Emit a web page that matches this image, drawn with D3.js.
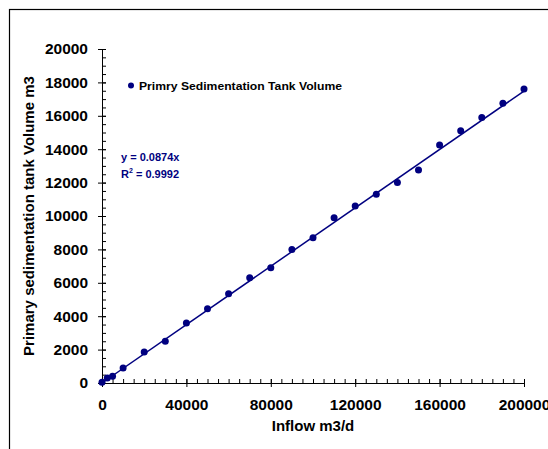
<!DOCTYPE html>
<html>
<head>
<meta charset="utf-8">
<script src="https://cdn.jsdelivr.net/npm/d3@7"></script>
<style>
  body { margin: 0; background: #fff; }
  svg { display: block; font-family: "Liberation Sans", Arial, sans-serif; }
</style>
</head>
<body>
<script>
// data

const inflow = [0, 2500, 5000, 10000, 20000, 30000, 40000, 50000, 60000, 70000,
                80000, 90000, 100000, 110000, 120000, 130000, 140000, 150000,
                160000, 170000, 180000, 190000, 200000];
const volume = [50, 300, 400, 900, 1850, 2500, 3600, 4450, 5350, 6300,
                6900, 8000, 8700, 9900, 10600, 11300, 12000, 12750,
                14250, 15100, 15900, 16750, 17600];
const xTicks = [0, 40000, 80000, 120000, 160000, 200000];
const yTicks = [0, 2000, 4000, 6000, 8000, 10000, 12000, 14000, 16000, 18000, 20000];
const slope = 0.0874;
const seriesName = "Primry Sedimentation Tank Volume";

// dimensions

const dms = {
    width: 548,
    height: 449,
    margins: { top: 49, right: 24, bottom: 66, left: 102 }
};
dms.innerWidth = dms.width - dms.margins.left - dms.margins.right;
dms.innerHeight = dms.height - dms.margins.top - dms.margins.bottom;

const navy = "#000080";

const svg = d3.select("body")
              .append("svg")
                .attr("width", dms.width)
                .attr("height", dms.height);

// chart frame (runs off the right and bottom edge)
svg.append("rect")
    .attr("x", 9.5).attr("y", 9.5)
    .attr("width", 600).attr("height", 600)
    .attr("fill", "none")
    .attr("stroke", "#000")
    .attr("stroke-width", 1.2);

const g = svg.append("g")
    .attr("transform", `translate(${dms.margins.left},${dms.margins.top})`);

// scales

const xScale = d3.scaleLinear()
    .domain([0, 200000])
    .range([0, dms.innerWidth]);

const yScale = d3.scaleLinear()
    .domain([0, 20000])
    .range([dms.innerHeight, 0]);

// minor ticks

g.append("g")
    .attr("transform", `translate(0,${dms.innerHeight})`)
    .call(d3.axisTop(xScale).tickValues(d3.range(0, 200001, 5000)).tickSize(4).tickFormat(""))
    .call(a => a.select(".domain").remove());

g.append("g")
    .call(d3.axisRight(yScale).tickValues(d3.range(0, 20001, 500)).tickSize(4).tickFormat(""))
    .call(a => a.select(".domain").remove());

// major axes

const xAxis = g.append("g")
    .attr("transform", `translate(0,${dms.innerHeight})`)
    .call(d3.axisBottom(xScale).tickValues(xTicks).tickSize(4).tickSizeOuter(0).tickPadding(12).tickFormat(d3.format("d")));
xAxis.selectAll(".tick line").attr("y1", -4);

const yAxis = g.append("g")
    .call(d3.axisLeft(yScale).tickValues(yTicks).tickSize(4).tickSizeOuter(0).tickPadding(10).tickFormat(d3.format("d")));
yAxis.selectAll(".tick line").attr("x1", 4);

svg.selectAll(".tick text")
    .attr("font-size", 15.5)
    .attr("font-weight", "bold")
    .attr("fill", "#000")
    .attr("font-family", "Liberation Sans, Arial, sans-serif");

// axis titles

svg.append("text")
    .attr("x", dms.margins.left + xScale(100000))
    .attr("y", 431)
    .attr("text-anchor", "middle")
    .attr("font-size", 15)
    .attr("font-weight", "bold")
    .text("Inflow m3/d");

svg.append("text")
    .attr("transform", `translate(34,${dms.margins.top + dms.innerHeight / 2}) rotate(-90)`)
    .attr("text-anchor", "middle")
    .attr("font-size", 15)
    .attr("font-weight", "bold")
    .text("Primary sedimentation tank Volume m3");

// trendline

g.append("line")
    .attr("x1", xScale(0)).attr("y1", yScale(0))
    .attr("x2", xScale(200000)).attr("y2", yScale(slope * 200000))
    .attr("stroke", navy)
    .attr("stroke-width", 1.5);

// points

g.selectAll("circle")
    .data(inflow)
    .enter()
    .append("circle")
      .attr("cx", d => xScale(d))
      .attr("cy", (d, i) => yScale(volume[i]))
      .attr("r", 3.5)
      .attr("fill", navy);

// legend

svg.append("circle")
    .attr("cx", 131).attr("cy", 85.5)
    .attr("r", 3)
    .attr("fill", navy);

svg.append("text")
    .attr("x", 139).attr("y", 89.5)
    .attr("font-size", 11)
    .attr("font-weight", "bold")
    .attr("textLength", 203)
    .attr("lengthAdjust", "spacingAndGlyphs")
    .text(seriesName);

// equation

const eq = svg.append("g")
    .attr("fill", navy)
    .attr("font-size", 11)
    .attr("font-weight", "bold");

eq.append("text")
    .attr("x", 121).attr("y", 161)
    .text(`y = ${slope}x`);

const r2 = eq.append("text")
    .attr("x", 121).attr("y", 177.5);
r2.append("tspan").text("R");
r2.append("tspan").attr("dy", -5).attr("font-size", 7).text("2");
r2.append("tspan").attr("dy", 5).text(" = 0.9992");
</script>
</body>
</html>
